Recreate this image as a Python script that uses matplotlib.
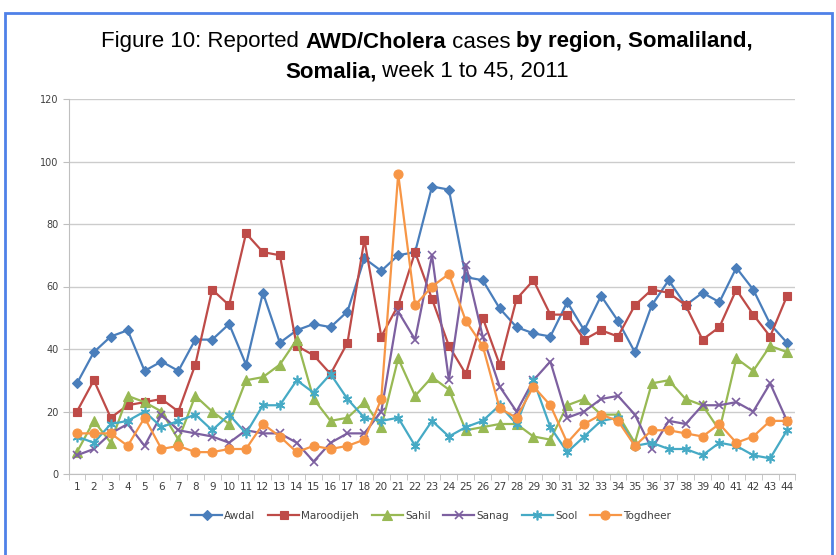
import matplotlib
matplotlib.use("Agg")
import matplotlib.pyplot as plt
from matplotlib.patches import Rectangle

# week labels as printed on the axis (no week 19)
weeks = [str(w) for w in list(range(1, 19)) + list(range(20, 45))]

awdal = [29, 39, 44, 46, 33, 36, 33, 43, 43, 48, 35, 58, 42, 46, 48, 47, 52, 69, 65, 70, 71, 92,
         91, 63, 62, 53, 47, 45, 44, 55, 46, 57, 49, 39, 54, 62, 54, 58, 55, 66, 59, 48, 42]
maroodijeh = [20, 30, 18, 22, 23, 24, 20, 35, 59, 54, 77, 71, 70, 41, 38, 32, 42, 75, 44, 54, 71, 56,
              41, 32, 50, 35, 56, 62, 51, 51, 43, 46, 44, 54, 59, 58, 54, 43, 47, 59, 51, 44, 57]
sahil = [7, 17, 10, 25, 23, 20, 11, 25, 20, 16, 30, 31, 35, 43, 24, 17, 18, 23, 15, 37, 25, 31,
         27, 14, 15, 16, 16, 12, 11, 22, 24, 19, 19, 10, 29, 30, 24, 22, 14, 37, 33, 41, 39]
sanag = [6, 8, 13, 16, 9, 19, 14, 13, 12, 10, 14, 13, 13, 10, 4, 10, 13, 13, 20, 52, 43, 70,
         30, 67, 44, 28, 20, 30, 36, 18, 20, 24, 25, 19, 8, 17, 16, 22, 22, 23, 20, 29, 17]
sool = [12, 10, 16, 17, 20, 15, 17, 19, 14, 19, 13, 22, 22, 30, 26, 32, 24, 18, 17, 18, 9, 17,
        12, 15, 17, 22, 16, 30, 15, 7, 12, 17, 18, 9, 10, 8, 8, 6, 10, 9, 6, 5, 14]
togdheer = [13, 13, 13, 9, 18, 8, 9, 7, 7, 8, 8, 16, 12, 7, 9, 8, 9, 11, 24, 96, 54, 60,
            64, 49, 41, 21, 18, 28, 22, 10, 16, 19, 17, 9, 14, 14, 13, 12, 16, 10, 12, 17, 17]

series = [
    ("Awdal", awdal, "#4A7EBB", "D", 5),
    ("Maroodijeh", maroodijeh, "#BE4B48", "s", 6),
    ("Sahil", sahil, "#98B954", "^", 6.5),
    ("Sanag", sanag, "#7D60A0", "x", 6),
    ("Sool", sool, "#46AAC5", (6, 2, 0), 7),
    ("Togdheer", togdheer, "#F79646", "o", 6.5),
]

W, H = 837, 555
fig = plt.figure(figsize=(W / 100, H / 100), dpi=100)

# blue frame around the figure
fig.patches.append(Rectangle((5 / W, -0.1), 827 / W, 1.1 - 13 / H, transform=fig.transFigure,
                             fill=False, edgecolor="#4F81E8", linewidth=2))

ax = fig.add_axes([68.5 / W, 1 - 474 / H, 727 / W, 375 / H])
x = list(range(len(weeks)))
for name, vals, col, mk, ms in series:
    ax.plot(x, vals, color=col, marker=mk, markersize=ms, linewidth=1.6, label=name,
            markeredgecolor=col, markeredgewidth=1.2 if mk in ("x", (6, 2, 0)) else 0.8)

ax.set_xlim(-0.5, len(weeks) - 0.5)
ax.set_ylim(0, 120)
ax.set_yticks(range(0, 121, 20))
ax.set_xticks(x)
ax.set_xticklabels(weeks)
ax.set_xticks([i - 0.5 for i in range(len(weeks) + 1)], minor=True)
ax.tick_params(axis="x", which="major", length=0, labelsize=7.5, colors="#404040", pad=6)
ax.tick_params(axis="x", which="minor", length=4, color="#BFBFBF", direction="out")
ax.tick_params(axis="y", length=4, color="#BFBFBF", labelsize=7, labelcolor="#404040", pad=3)
ax.grid(axis="y", color="#CCCCCC", linewidth=1)
ax.set_axisbelow(True)
for s in ["top", "right"]:
    ax.spines[s].set_visible(False)
ax.spines["left"].set_color("#BFBFBF")
ax.spines["bottom"].set_color("#BFBFBF")

ax.legend(loc="center", bbox_to_anchor=(431 / W, 1 - 516 / H), bbox_transform=fig.transFigure,
          ncol=6, frameon=False, fontsize=7.5, handlelength=3, columnspacing=1.2,
          handletextpad=0.2, labelcolor="#404040")

# title with mixed bold / normal pieces
title_font = ["Liberation Sans Narrow", "Liberation Sans", "DejaVu Sans"]
lines = [
    (42, [("Figure 10: Reported ", "normal"), ("AWD/Cholera", "bold"), (" cases ", "normal"),
          ("by region, Somaliland,", "bold")]),
    (72, [("Somalia,", "bold"), (" week 1 to 45, 2011", "normal")]),
]
r = fig.canvas.get_renderer()
for ypix, parts in lines:
    texts = [fig.text(0, 1 - ypix / H, s, fontsize=16, fontweight=w, family=title_font,
                      va="center", ha="left") for s, w in parts]
    widths = [t.get_window_extent(r).width for t in texts]
    xp = 427 - sum(widths) / 2
    for t, wd in zip(texts, widths):
        t.set_x(xp / W)
        xp += wd

fig.savefig("out.png", dpi=100)
